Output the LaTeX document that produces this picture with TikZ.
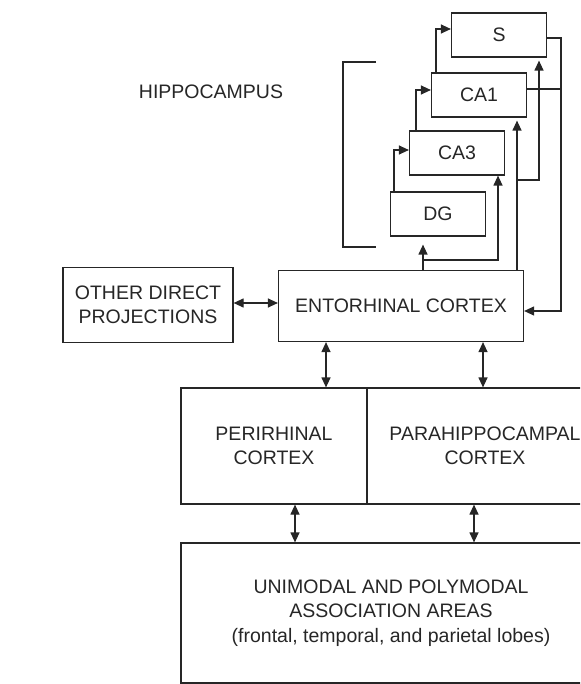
\documentclass[tikz,border=0pt]{standalone}
\usepackage{fontspec}
\setsansfont{Liberation Sans}
\usetikzlibrary{arrows.meta}

\begin{document}
\begin{tikzpicture}[
  x=1pt, y=-1pt,
  color=black!85,
  font=\sffamily\fontsize{19.5}{24}\selectfont,
  box/.style={rectangle, draw, line width=1.2pt, inner sep=2pt, align=center},
  field/.style={box, minimum width=95pt, minimum height=44pt},
  arr/.style={-{Triangle[length=10pt,width=9pt]}, line width=1.2pt},
  darr/.style={{Triangle[length=10pt,width=9pt]}-{Triangle[length=10pt,width=9pt]}, line width=1.2pt}
]
\useasboundingbox (0,0) rectangle (580,684);
\clip (0,0) rectangle (580,684);

% hippocampal fields
\node[field] (S)   at (499,35)  {S};
\node[field] (CA1) at (479,95)  {CA1};
\node[field] (CA3) at (457,153) {CA3};
\node[field] (DG)  at (438,214) {DG};
\node (hippo) at (211,92) {HIPPOCAMPUS};
\draw[line width=1.2pt] (376,62) -| (343,247) -- (376,247);

% cortical boxes
\node[box, minimum width=245pt, minimum height=71pt] (EC) at (401,306) {ENTORHINAL CORTEX};
\node[box, minimum width=170pt, minimum height=75pt] (other) at (148,305) {OTHER DIRECT\\PROJECTIONS};
\node[box, minimum width=186pt, minimum height=116pt] (PR) at (274,446) {PERIRHINAL\\CORTEX};
\node[box, minimum width=236pt, minimum height=116pt] (PH) at (485,446) {PARAHIPPOCAMPAL\\CORTEX};
\node[box, minimum width=420pt, minimum height=140pt] (UA) at (391,613)
  {UNIMODAL AND POLYMODAL\\ASSOCIATION AREAS\\[1pt](frontal, temporal, and parietal lobes)};

% trisynaptic loop
\draw[arr] ([xshift=4pt]DG.north west) |- ([yshift=3pt]CA3.west);
\draw[arr] ([xshift=7pt]CA3.north west) |- ([yshift=5pt]CA1.west);
\draw[arr] ([xshift=5pt]CA1.north west) |- ([yshift=6pt]S.west);

% entorhinal inputs
\coordinate (ecdg) at ([xshift=-15pt]DG.south |- EC.north);
\coordinate (fork1) at ([yshift=10pt]ecdg);
\draw[arr] (ecdg) -- ([xshift=-15pt,yshift=-8pt]DG.south);
\draw[arr] (fork1) -| ([xshift=41pt]CA3.south);
\coordinate (ecca1) at ([xshift=38pt]CA1.south |- EC.north);
\coordinate (fork2) at (517,180);
\draw[arr] (ecca1) -- ([xshift=38pt,yshift=-3pt]CA1.south);
\draw[arr] (fork2) -| ([xshift=40pt,yshift=-3pt]S.south);

% outputs back to entorhinal
\coordinate (ret) at (561,311);
\draw[arr] ([yshift=-3pt]S.east) -| (ret) -- ([yshift=-5pt]EC.east);
\draw[line width=1.2pt] ([yshift=6pt]CA1.east) -- ([yshift=6pt]CA1.east -| ret);

% cortical connections
\draw[darr] ([yshift=2pt]other.east) -- ([yshift=2pt]other.east -| EC.west);
\draw[darr] ([xshift=-75pt]EC.south) -- ([xshift=-75pt]EC.south |- PR.north);
\draw[darr] ([xshift=82pt]EC.south) -- ([xshift=82pt]EC.south |- PH.north);
\draw[darr] ([xshift=21pt]PR.south) -- ([xshift=21pt]PR.south |- UA.north);
\draw[darr] ([xshift=-11pt]PH.south) -- ([xshift=-11pt]PH.south |- UA.north);
\end{tikzpicture}
\end{document}
